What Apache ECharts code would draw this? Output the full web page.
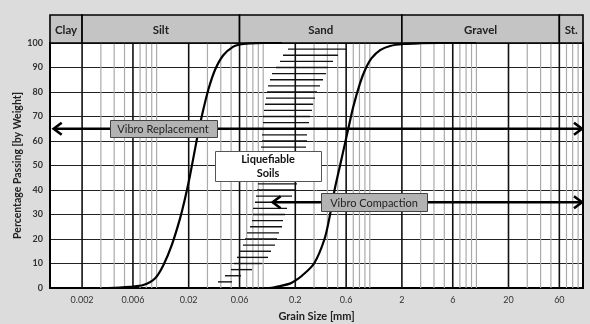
<!DOCTYPE html>
<html>
<head>
<meta charset="utf-8">
<script src="https://cdn.jsdelivr.net/npm/echarts@6/dist/echarts.min.js"></script>
<style>
html,body{margin:0;padding:0;background:#dcdcdc;}
#chart{width:590px;height:324px;}
</style>
</head>
<body>
<div id="chart"></div>
<script>
// ---- data ----
const tickVals = [0.002, 0.006, 0.02, 0.06, 0.2, 0.6, 2, 6, 20, 60];
const tickLabels = ['0.002', '0.006', '0.02', '0.06', '0.2', '0.6', '2', '6', '20', '60'];
const minorLines = [0.003, 0.004, 0.005, 0.007, 0.008, 0.009, 0.01,
  0.03, 0.04, 0.05, 0.07, 0.08, 0.09, 0.1,
  0.3, 0.4, 0.5, 0.7, 0.8, 0.9, 1,
  3, 4, 5, 7, 8, 9, 10,
  30, 40, 50, 70, 80, 90];
const zoneNames = ['Clay', 'Silt', 'Sand', 'Gravel', 'St.'];
const zoneEdges = [0.001, 0.002, 0.06, 2, 60, 100];

const fineX = [0.0035, 0.0045, 0.0056, 0.0075, 0.0097, 0.0116, 0.0139, 0.0166, 0.0185, 0.0206, 0.0238, 0.0265, 0.0306, 0.0353, 0.0422, 0.0524, 0.0606, 0.075, 0.1, 0.15];
const fineY = [0, 0.2, 0.5, 1.2, 4, 9.4, 17.6, 28.4, 36.6, 46, 60.4, 70, 81, 89, 95, 98.5, 99.4, 99.8, 100, 100];

const coarseX = [0.1, 0.12, 0.144, 0.178, 0.2, 0.231, 0.30, 0.376, 0.424, 0.467, 0.526, 0.628, 0.70, 0.809, 0.902, 1.04, 1.25, 1.55, 2.06, 3.0, 4.5, 10];
const coarseY = [0, 0.1, 0.8, 1.8, 3, 5, 10, 20, 30, 40, 50, 65, 74, 83.5, 89, 93.8, 97.1, 98.8, 99.6, 99.9, 100, 100];

const liqY = [2.5, 5, 7.5, 10, 12.5, 15, 17.5, 20, 22.5, 25, 27.5, 30, 32.5, 35, 37.5, 40, 42.5, 45, 47.5, 50, 52.5, 55, 57.5, 60, 62.5, 65, 67.5, 70, 72.5, 75, 77.5, 80, 82.5, 85, 87.5, 90, 92.5, 95, 97.5];
const liqLeft = [0.0377, 0.0438, 0.0499, 0.0532, 0.0568, 0.0606, 0.0646, 0.0675, 0.0705, 0.0752, 0.0785, 0.0802, 0.0802, 0.0838, 0.0856, 0.0875, 0.0894, 0.0913, 0.0913, 0.0933, 0.0933, 0.0954, 0.0954, 0.0974, 0.0974, 0.0974, 0.0996, 0.0996, 0.1017, 0.1039, 0.1062, 0.1086, 0.1109, 0.1158, 0.121, 0.1319, 0.1438, 0.1534, 0.1709];
const liqRight = [0.051, 0.0619, 0.0785, 0.0974, 0.1109, 0.1184, 0.129, 0.1348, 0.1407, 0.1501, 0.1534, 0.1602, 0.1672, 0.1784, 0.1863, 0.1988, 0.2076, 0.2214, 0.2263, 0.2312, 0.2414, 0.2467, 0.2521, 0.2576, 0.2576, 0.2633, 0.269, 0.2749, 0.287, 0.2933, 0.3062, 0.3197, 0.3412, 0.3639, 0.3884, 0.4055, 0.4517, 0.5032, 0.6111];

const arrowFrom = [0.00106, 0.12];
const arrowTo = [100, 100];
const arrowY = [65, 35];

const boxTexts = ['Vibro Replacement', 'Vibro Compaction', 'Liquefiable\nSoils'];
const boxX = [0.0115, 1.094, 0.111];
const boxY = [65, 35, 50];

// ---- styles ----
const FONT = 'Lato, "Open Sans", sans-serif';
const boxStyles = [
  { w: 107, h: 17, fill: '#b3b3b3', stroke: '#444', font: '11px ' + FONT, color: '#222' },
  { w: 106, h: 18, fill: '#b3b3b3', stroke: '#444', font: '11px ' + FONT, color: '#222' },
  { w: 106, h: 30, fill: '#ffffff', stroke: '#555', font: 'bold 11px ' + FONT, color: '#111' }
];

function labelFor(v) {
  for (let i = 0; i < tickVals.length; i++) {
    if (Math.abs(Math.log10(v) - Math.log10(tickVals[i])) < 0.01) return tickLabels[i];
  }
  return '';
}

const chart = echarts.init(document.getElementById('chart'));

const gridData = tickVals.map(v => [v, 1]).concat(minorLines.map(v => [v, 0]));

const option = {
  backgroundColor: '#dcdcdc',
  animation: false,
  grid: [
    { left: 50, right: 7, top: 43, bottom: 36, show: true, backgroundColor: '#fff', borderColor: '#000', borderWidth: 2, z: 0,
      containLabel: false, outerBoundsMode: 'none' },
    { left: 50, right: 7, top: 15, height: 28, show: false, containLabel: false, outerBoundsMode: 'none' }
  ],
  xAxis: [
    {
      type: 'log', logBase: 10, min: 0.001, max: 100, gridIndex: 0,
      axisLine: { show: true, lineStyle: { color: '#000', width: 2 } },
      axisTick: { show: false },
      splitLine: { show: false },
      minorSplitLine: { show: false },
      axisLabel: {
        customValues: tickVals, formatter: labelFor,
        color: '#333', fontSize: 9, fontFamily: FONT, margin: 8
      },
      name: 'Grain Size [mm]', nameLocation: 'middle', nameGap: 23,
      nameTextStyle: { fontWeight: 'bold', fontSize: 11, color: '#222', fontFamily: FONT }
    },
    {
      type: 'log', logBase: 10, min: 0.001, max: 100, gridIndex: 1, show: false
    }
  ],
  yAxis: [
    {
      type: 'value', min: 0, max: 100, interval: 10, gridIndex: 0,
      axisLine: { show: true, lineStyle: { color: '#000', width: 2 } },
      axisTick: { show: false },
      splitLine: { show: true, lineStyle: { color: '#222', width: 1 } },
      axisLabel: { color: '#333', fontSize: 9, fontWeight: 'bold', fontFamily: FONT, margin: 7 },
      name: 'Percentage Passing [by Weight]', nameLocation: 'middle', nameGap: 27, nameMoveOverlap: false,
      nameTextStyle: { fontWeight: 'bold', fontSize: 10.5, color: '#222', fontFamily: FONT }
    },
    { type: 'value', min: 0, max: 1, gridIndex: 1, show: false }
  ],
  series: [
    {
      type: 'custom', name: 'grid', xAxisIndex: 0, yAxisIndex: 0, z: 1, silent: true,
      data: gridData,
      renderItem: function (params, api) {
        const v = api.value(0), major = api.value(1) === 1;
        const p1 = api.coord([v, 0]), p2 = api.coord([v, 100]);
        return {
          type: 'line',
          shape: { x1: p1[0], y1: p1[1], x2: p2[0], y2: p2[1] },
          style: { stroke: major ? '#111' : '#aaa', lineWidth: major ? 1.6 : 1.2 }
        };
      }
    },
    {
      type: 'custom', name: 'zones', xAxisIndex: 1, yAxisIndex: 1, z: 2, silent: true,
      data: zoneNames.map((n, i) => [zoneEdges[i], zoneEdges[i + 1]]),
      renderItem: function (params, api) {
        const a = api.coord([api.value(0), 1]), b = api.coord([api.value(1), 0]);
        return {
          type: 'group',
          children: [
            { type: 'rect', shape: { x: a[0], y: a[1], width: b[0] - a[0], height: b[1] - a[1] },
              style: { fill: '#c4c4c4', stroke: '#000', lineWidth: 1.6 } },
            { type: 'text', style: { text: zoneNames[params.dataIndex], x: (a[0] + b[0]) / 2, y: (a[1] + b[1]) / 2 + 1,
              align: 'center', verticalAlign: 'middle', font: 'bold 11.5px ' + FONT, fill: '#222' } }
          ]
        };
      }
    },
    {
      type: 'custom', name: 'liquefiable', xAxisIndex: 0, yAxisIndex: 0, z: 3, silent: true,
      data: liqY.map((y, i) => [liqLeft[i], liqRight[i], y]),
      renderItem: function (params, api) {
        const a = api.coord([api.value(0), api.value(2)]), b = api.coord([api.value(1), api.value(2)]);
        return { type: 'line', shape: { x1: a[0], y1: a[1], x2: b[0], y2: b[1] },
          style: { stroke: '#111', lineWidth: 1.4 } };
      }
    },
    {
      type: 'line', name: 'fine', xAxisIndex: 0, yAxisIndex: 0, z: 4,
      data: fineX.map((x, i) => [x, fineY[i]]),
      smooth: 0.3, showSymbol: false,
      lineStyle: { color: '#000', width: 2.2 }
    },
    {
      type: 'line', name: 'coarse', xAxisIndex: 0, yAxisIndex: 0, z: 4,
      data: coarseX.map((x, i) => [x, coarseY[i]]),
      smooth: 0.3, showSymbol: false,
      lineStyle: { color: '#000', width: 2.2 }
    },
    {
      type: 'custom', name: 'arrows', xAxisIndex: 0, yAxisIndex: 0, z: 5, silent: true,
      data: arrowY.map((y, i) => [arrowFrom[i], arrowTo[i], y]),
      renderItem: function (params, api) {
        const a = api.coord([api.value(0), api.value(2)]), b = api.coord([api.value(1), api.value(2)]);
        const hl = 9, hh = 6;
        const st = { stroke: '#000', lineWidth: 2.6, fill: 'none', lineJoin: 'miter' };
        return {
          type: 'group',
          children: [
            { type: 'line', shape: { x1: a[0] + 1, y1: a[1], x2: b[0] - 1, y2: b[1] }, style: st },
            { type: 'polyline', shape: { points: [[a[0] + hl, a[1] - hh], [a[0] + 1, a[1]], [a[0] + hl, a[1] + hh]] }, style: st },
            { type: 'polyline', shape: { points: [[b[0] - hl, b[1] - hh], [b[0] - 1, b[1]], [b[0] - hl, b[1] + hh]] }, style: st }
          ]
        };
      }
    },
    {
      type: 'custom', name: 'boxes', xAxisIndex: 0, yAxisIndex: 0, z: 6, silent: true,
      data: boxX.map((x, i) => [x, boxY[i]]),
      renderItem: function (params, api) {
        const c = api.coord([api.value(0), api.value(1)]);
        const s = boxStyles[params.dataIndex];
        return {
          type: 'group',
          children: [
            { type: 'rect', shape: { x: Math.round(c[0] - s.w / 2) + 0.5, y: Math.round(c[1] - s.h / 2) + 0.5, width: s.w, height: s.h },
              style: { fill: s.fill, stroke: s.stroke, lineWidth: 1 } },
            { type: 'text', style: { text: boxTexts[params.dataIndex], x: c[0], y: c[1] + 1, align: 'center', verticalAlign: 'middle',
              font: s.font, fill: s.color, lineHeight: 14 } }
          ]
        };
      }
    }
  ]
};
chart.setOption(option);
</script>
</body>
</html>
